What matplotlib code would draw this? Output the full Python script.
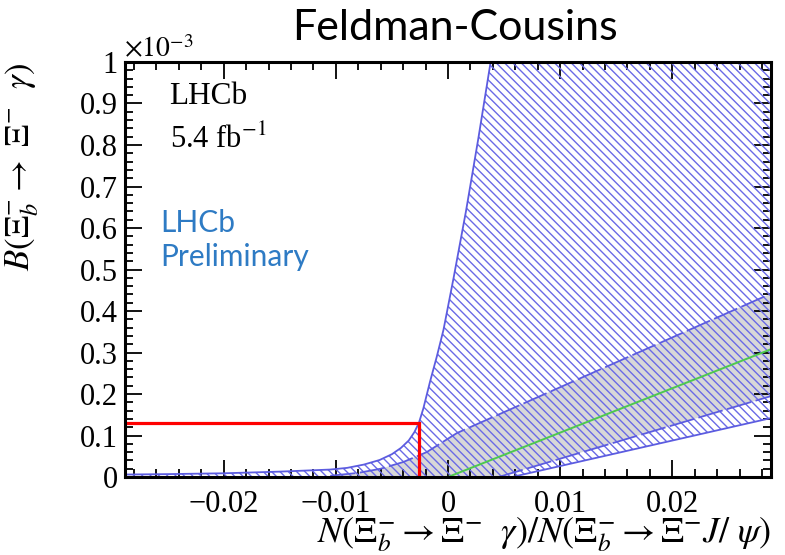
import numpy as np
import matplotlib
matplotlib.use("Agg")
import matplotlib.pyplot as plt
from matplotlib.ticker import MultipleLocator, FuncFormatter

plt.rcParams["font.family"] = "Liberation Serif"
plt.rcParams["mathtext.fontset"] = "stix"
plt.rcParams["hatch.linewidth"] = 1.0

# branching fraction in units of 1e-3 versus the yield ratio
x_lo, x_hi = -0.0288, 0.0288

# outer (hatched) band
outer_up_x = [-0.0288, -0.025, -0.02, -0.015, -0.0105, -0.009, -0.0075, -0.0061,
              -0.005, -0.0042, -0.0035, -0.003, -0.0026, -0.0022, -0.0016,
              -0.001, -0.0004, 0.0005, 0.0016, 0.0027, 0.0038]
outer_up_y = [0.006, 0.007, 0.009, 0.013, 0.018, 0.022, 0.030, 0.041,
              0.055, 0.070, 0.088, 0.108, 0.130, 0.165, 0.230,
              0.290, 0.355, 0.480, 0.640, 0.815, 1.0]
outer_lo_x = [0.0057, 0.0288]
outer_lo_y = [0.0, 0.142]

# inner (grey) band
inner_up_x = [-0.0105, -0.008, -0.006, -0.004, -0.0019, 0.0008, 0.0288]
inner_up_y = [0.003, 0.010, 0.020, 0.036, 0.060, 0.106, 0.442]
inner_lo_x = [0.0045, 0.0288]
inner_lo_y = [0.0, 0.195]

# central value line
central_x = [0.0, 0.0288]
central_y = [0.0, 0.308]

# measured point
meas_x = -0.0026
meas_y = 0.13

fig = plt.figure(figsize=(7.85, 5.55), dpi=100)
ax = fig.add_axes([0.1592, 0.1405, 0.8230, 0.7478])

blue = "#5c5ce0"

# grey inner band
px = inner_up_x + inner_lo_x[::-1] + [inner_up_x[0]]
py = inner_up_y + inner_lo_y[::-1] + [0.0]
ax.fill(px, py, facecolor="#d8d8d8", edgecolor="none", zorder=1)

# hatched outer band
px = outer_up_x + [x_hi] + outer_lo_x[::-1] + [x_lo]
py = outer_up_y + [1.0] + outer_lo_y[::-1] + [0.0]
ax.fill(px, py, facecolor="none", edgecolor="#6a6ae6", hatch="\\\\\\\\",
        linewidth=0, zorder=2)

ax.plot(outer_up_x, outer_up_y, color=blue, lw=1.3, zorder=3)
ax.plot(outer_lo_x, outer_lo_y, color=blue, lw=1.3, zorder=3)
ax.plot(inner_up_x, inner_up_y, color=blue, lw=1.3, dashes=(14, 2.5), zorder=3)
ax.plot(inner_lo_x, inner_lo_y, color=blue, lw=1.3, dashes=(14, 2.5), zorder=3)
ax.plot(central_x, central_y, color="#4ec94e", lw=1.4, zorder=4)

ax.plot([x_lo, meas_x, meas_x], [meas_y, meas_y, 0.0], color="red", lw=2.3,
        solid_joinstyle="miter", zorder=5)

ax.set_xlim(x_lo, x_hi)
ax.set_ylim(0, 1)
ax.xaxis.set_major_locator(MultipleLocator(0.01))
ax.xaxis.set_minor_locator(MultipleLocator(0.002))
ax.yaxis.set_major_locator(MultipleLocator(0.1))
ax.yaxis.set_minor_locator(MultipleLocator(0.02))
ax.xaxis.set_major_formatter(FuncFormatter(lambda v, p: ("%g" % round(v, 4)).replace("-", "\u2212")))
ax.yaxis.set_major_formatter(FuncFormatter(lambda v, p: "%g" % round(v, 3)))
ax.tick_params(which="both", direction="in", top=True, right=True,
               labelsize=22, width=1.3)
ax.tick_params(which="major", length=12)
ax.tick_params(which="minor", length=6)
ax.tick_params(axis="x", pad=9)
ax.tick_params(axis="y", pad=5)
for s in ax.spines.values():
    s.set_linewidth(2.2)
    s.set_zorder(6)

ax.set_ylabel(r"$B(\Xi_b^{-}\rightarrow\ \Xi^{-}\ \ \gamma)$", fontsize=25, loc="top")
ax.yaxis.set_label_coords(-0.13, 1.0)
ax.set_xlabel(r"$N(\Xi_b^{-}\rightarrow\Xi^{-}\ \ \gamma)/N(\Xi_b^{-}\rightarrow\Xi^{-}J/\ \psi)$",
              fontsize=26, loc="right", labelpad=-2)

fig.text(0.158, 0.896, r"$\times10^{-3}$", fontsize=20)
ax.text(0.069, 0.918, "LHCb", fontsize=22.5, family="Liberation Serif",
        va="center", transform=ax.transAxes)
ax.text(0.069, 0.812, r"5.4 fb$^{-1}$", fontsize=22, family="Liberation Serif",
        va="center", transform=ax.transAxes)

ax.text(0.054, 0.571, "LHCb\nPreliminary", fontsize=21.5, color="#2e7bc4",
        family="Lato", linespacing=1.25, va="center", transform=ax.transAxes)

fig.text(0.58, 0.95, "Feldman-Cousins", fontsize=31, family="Lato",
         ha="center", va="center")

fig.savefig("out.png", dpi=100)
